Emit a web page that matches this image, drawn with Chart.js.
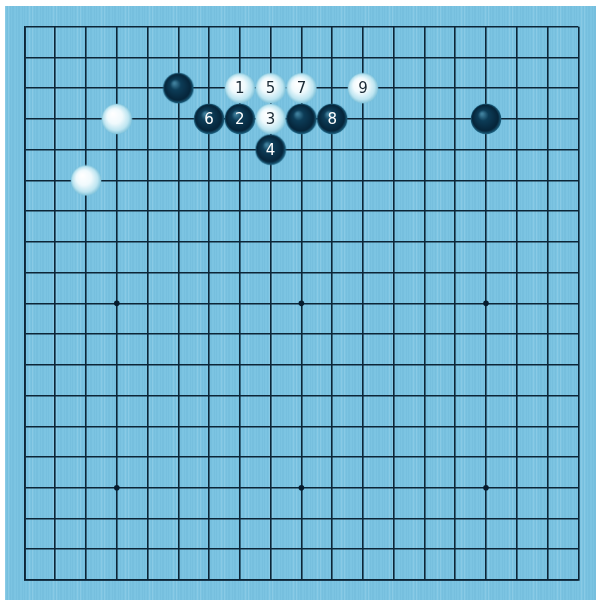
<!DOCTYPE html>
<html>
<head>
<meta charset="utf-8">
<script src="https://cdn.jsdelivr.net/npm/chart.js@4.4.1/dist/chart.umd.min.js"></script>
<style>
  html, body { margin: 0; padding: 0; background: #ffffff; }
  #board_wrap { width: 596px; height: 600px; }
</style>
</head>
<body>
<div id="board_wrap"><canvas id="board_chart" width="596" height="600"></canvas></div>
<script>
// board coordinates: column 0..18 left to right, row 0..18 top to bottom
var BOARD_SIZE = 19;

// stones without numbers
var BLACK_COLS = [5, 9, 15];
var BLACK_ROWS = [2, 3, 3];
var WHITE_COLS = [3, 2];
var WHITE_ROWS = [3, 5];

// numbered moves (odd = white, even = black)
var MOVE_NUMS = [1, 2, 3, 4, 5, 6, 7, 8, 9];
var MOVE_COLS = [7, 7, 8, 8, 8, 6, 9, 10, 11];
var MOVE_ROWS = [2, 3, 3, 4, 2, 3, 2, 3, 2];

// hoshi
var STAR_COLS = [3, 9, 15, 3, 9, 15];
var STAR_ROWS = [9, 9, 9, 15, 15, 15];

var LINE_COLOR = "#0c2537";
var STONE_R = 15.5;

function makeStone(black) {
  const size = 32;
  const c = document.createElement("canvas");
  c.width = size; c.height = size;
  const g = c.getContext("2d");
  const cx = size / 2, cy = size / 2;
  const grad = g.createRadialGradient(cx - 4, cy - 5, 1, cx, cy, STONE_R);
  if (black) {
    grad.addColorStop(0, "#3f7f9c");
    grad.addColorStop(0.3, "#0d3d58");
    grad.addColorStop(0.82, "#06253a");
    grad.addColorStop(1, "#1f6888");
  } else {
    grad.addColorStop(0, "#ffffff");
    grad.addColorStop(0.45, "#f0fafd");
    grad.addColorStop(0.8, "#bde5f1");
    grad.addColorStop(1, "#7cc0d8");
  }
  g.beginPath();
  g.arc(cx, cy, STONE_R - 0.2, 0, Math.PI * 2);
  g.fillStyle = grad;
  g.fill();
  return c;
}

var BLACK_STONE = makeStone(true);
var WHITE_STONE = makeStone(false);

function toPoints(cols, rows) {
  return cols.map((c, i) => ({ x: c, y: rows[i] }));
}

var movePoints = toPoints(MOVE_COLS, MOVE_ROWS);
var moveStyles = MOVE_NUMS.map(n => (n % 2 === 0 ? BLACK_STONE : WHITE_STONE));

// board (blue) background with faint vertical grain
const boardBackground = {
  id: "boardBackground",
  beforeDraw(chart) {
    const ctx = chart.ctx;
    ctx.save();
    ctx.fillStyle = "#ffffff";
    ctx.fillRect(0, 0, chart.width, chart.height);
    ctx.fillStyle = "#7cc4e2";
    ctx.fillRect(5, 6, chart.width - 5, chart.height - 6);
    const grain = [0, 2, 3, 5, 7, 8, 11, 13, 14, 17, 19, 22];
    for (let x = 5; x < chart.width; x += 24) {
      for (const off of grain) {
        ctx.fillStyle = (off % 3 === 0) ? "rgba(255,255,255,0.10)" : "rgba(70,150,190,0.10)";
        ctx.fillRect(x + off, 6, 1, chart.height - 6);
      }
    }
    ctx.restore();
  }
};

// numbers on the stones
const moveLabels = {
  id: "moveLabels",
  afterDatasetsDraw(chart) {
    const meta = chart.getDatasetMeta(2);
    const ctx = chart.ctx;
    ctx.save();
    ctx.font = "15px 'DejaVu Sans', sans-serif";
    ctx.textAlign = "center";
    ctx.textBaseline = "middle";
    meta.data.forEach((pt, i) => {
      const n = MOVE_NUMS[i];
      ctx.fillStyle = (n % 2 === 0) ? "#ffffff" : "#1a2a35";
      ctx.fillText(String(n), pt.x, pt.y + 1);
    });
    ctx.restore();
  }
};

const ctx = document.getElementById("board_chart");

const scaleOpts = {
  type: "linear",
  min: 0,
  max: BOARD_SIZE - 1,
  ticks: { display: false, stepSize: 1 },
  grid: { color: LINE_COLOR, lineWidth: 1.6, drawTicks: false, tickLength: 0 },
  border: { display: true, color: LINE_COLOR, width: 1.8 },
  title: { display: false }
};

new Chart(ctx, {
  type: "scatter",
  data: {
    datasets: [
      {
        label: "hoshi",
        data: toPoints(STAR_COLS, STAR_ROWS),
        pointStyle: "circle",
        pointRadius: 2.8,
        backgroundColor: "#061c2e",
        borderWidth: 0
      },
      {
        label: "black",
        data: toPoints(BLACK_COLS, BLACK_ROWS),
        pointStyle: BLACK_STONE,
        clip: false
      },
      {
        label: "moves",
        data: movePoints,
        pointStyle: moveStyles,
        clip: false
      },
      {
        label: "white",
        data: toPoints(WHITE_COLS, WHITE_ROWS),
        pointStyle: WHITE_STONE,
        clip: false
      }
    ]
  },
  options: {
    responsive: false,
    animation: false,
    devicePixelRatio: 1,
    layout: { padding: { left: 24.5, top: 26.7, right: 17.7, bottom: 20 } },
    plugins: { legend: { display: false }, tooltip: { enabled: false } },
    scales: {
      x: Object.assign({}, scaleOpts),
      y: Object.assign({}, scaleOpts, { reverse: true })
    }
  },
  plugins: [boardBackground, moveLabels]
});
</script>
</body>
</html>
